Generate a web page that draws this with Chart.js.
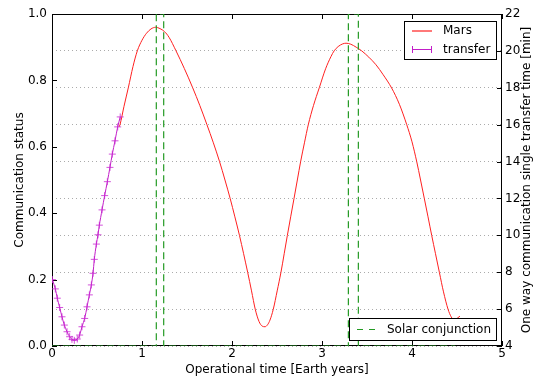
<!DOCTYPE html>
<html><head><meta charset="utf-8">
<script src="https://cdn.jsdelivr.net/npm/chart.js@4"></script>
<style>html,body{margin:0;padding:0;background:#fff;}canvas{display:block;}</style>
</head><body>
<canvas id="c" width="535" height="381"></canvas>
<script>
// ---- data ----
const marsT = [0.745,0.756,0.80,0.848,0.90,0.948,1.00,1.05,1.10,1.152,1.20,1.25,1.30,1.378,1.47,1.563,1.643,1.721,1.793,1.861,1.922,1.980,2.032,2.083,2.129,2.174,2.217,2.258,2.30,2.335,2.367,2.395,2.422,2.459,2.502,2.544,2.580,2.615,2.652,2.689,2.726,2.763,2.805,2.848,2.905,2.970,3.04,3.10,3.135,3.18,3.23,3.267,3.32,3.38,3.441,3.52,3.60,3.68,3.774,3.86,3.941,4.00,4.052,4.095,4.137,4.178,4.219,4.261,4.304,4.35,4.40,4.435,4.467,4.50,4.533];
const marsV = [0.660,0.667,0.722,0.778,0.842,0.889,0.921,0.942,0.955,0.960,0.956,0.947,0.930,0.889,0.836,0.778,0.724,0.667,0.612,0.556,0.500,0.444,0.389,0.333,0.278,0.222,0.166,0.111,0.074,0.060,0.058,0.064,0.078,0.111,0.166,0.222,0.278,0.333,0.389,0.444,0.500,0.556,0.612,0.667,0.724,0.778,0.835,0.872,0.889,0.902,0.910,0.912,0.909,0.900,0.889,0.870,0.847,0.817,0.777,0.728,0.667,0.615,0.556,0.500,0.444,0.389,0.333,0.278,0.222,0.163,0.111,0.088,0.078,0.083,0.090];
const transferT = [0.005,0.037,0.059,0.085,0.111,0.137,0.167,0.196,0.222,0.248,0.281,0.307,0.333,0.363,0.389,0.415,0.437,0.456,0.470,0.493,0.511,0.526,0.556,0.585,0.615,0.644,0.670,0.700,0.730,0.758];
const transferV = [0.200,0.172,0.144,0.116,0.088,0.063,0.043,0.028,0.020,0.017,0.021,0.033,0.058,0.083,0.118,0.154,0.184,0.219,0.261,0.307,0.335,0.364,0.410,0.453,0.495,0.538,0.578,0.618,0.660,0.690];
const conjT = [0,1.159,1.159,1.241,1.241,3.293,3.293,3.404,3.404,4.48];
const conjV = [0,0,1,1,0,0,1,1,0,0];
const xTicks = [0,1,2,3,4,5];
const leftTicks = [0,0.2,0.4,0.6,0.8,1.0];
const rightTicks = [4,6,8,10,12,14,16,18,20,22];
const seriesNames = ['Mars','transfer','Solar conjunction'];
const xTitle = 'Operational time [Earth years]';
const yTitle = 'Communication status';
const y2Title = 'One way communication single transfer time [min]';

const FONT = 'DejaVu Sans';
const RED = '#ff2020', MAG = '#c21ec8', GREEN = '#249a24';
const zip = (t, v) => t.map((x, i) => ({x: x, y: v[i]}));

const decor = {
  id: 'decor',
  beforeDatasetsDraw(chart) {
    const ctx = chart.ctx, a = chart.chartArea;
    const xs = chart.scales.x, ys = chart.scales.y, y2 = chart.scales.y2;
    ctx.save();
    ctx.strokeStyle = '#000'; ctx.lineWidth = 1; ctx.setLineDash([]);
    ctx.strokeRect(Math.round(a.left) + 0.5, Math.round(a.top) + 0.5, Math.round(a.right - a.left) - 1, Math.round(a.bottom - a.top) - 1);
    ctx.beginPath();
    xTicks.forEach(v => {
      const p = Math.round(xs.getPixelForValue(v)) + 0.5;
      ctx.moveTo(p, a.bottom); ctx.lineTo(p, a.bottom - 5);
      ctx.moveTo(p, a.top); ctx.lineTo(p, a.top + 5);
    });
    leftTicks.forEach(v => {
      const p = Math.round(ys.getPixelForValue(v)) + 0.5;
      ctx.moveTo(a.left, p); ctx.lineTo(a.left + 5, p);
    });
    rightTicks.forEach(v => {
      const p = Math.round(y2.getPixelForValue(v)) + 0.5;
      ctx.moveTo(a.right, p); ctx.lineTo(a.right - 5, p);
    });
    ctx.stroke();
    ctx.restore();
  },
  afterDraw(chart) {
    const ctx = chart.ctx, a = chart.chartArea;
    ctx.save();
    ctx.fillStyle = '#000'; ctx.font = '12px "' + FONT + '"';
    ctx.textAlign = 'center'; ctx.textBaseline = 'middle';
    ctx.fillText(xTitle, (a.left + a.right) / 2, 370);
    ctx.save(); ctx.translate(20, (a.top + a.bottom) / 2); ctx.rotate(-Math.PI / 2);
    ctx.fillText(yTitle, 0, 0); ctx.restore();
    ctx.save(); ctx.translate(527, (a.top + a.bottom) / 2); ctx.rotate(-Math.PI / 2);
    ctx.fillText(y2Title, 0, 0); ctx.restore();
    // legend 1 (top right)
    ctx.textAlign = 'left'; ctx.setLineDash([]);
    ctx.fillStyle = '#fff'; ctx.fillRect(404, 21, 93, 39);
    ctx.strokeStyle = '#000'; ctx.lineWidth = 1; ctx.strokeRect(404.5, 21.5, 92, 38);
    ctx.strokeStyle = RED; ctx.lineWidth = 1.2; ctx.beginPath(); ctx.moveTo(412, 31); ctx.lineTo(432, 31); ctx.stroke();
    ctx.strokeStyle = MAG; ctx.lineWidth = 1; ctx.beginPath(); ctx.moveTo(412, 49.5); ctx.lineTo(432, 49.5);
    [412, 431].forEach(x => { ctx.moveTo(x + 0.5, 46); ctx.lineTo(x + 0.5, 53); });
    ctx.stroke();
    ctx.fillStyle = '#000';
    ctx.fillText(seriesNames[0], 443, 31);
    ctx.fillText(seriesNames[1], 443, 49.5);
    // legend 2 (bottom right)
    ctx.fillStyle = '#fff'; ctx.fillRect(349, 318, 148, 23);
    ctx.strokeStyle = '#000'; ctx.lineWidth = 1; ctx.strokeRect(349.5, 318.5, 147, 22);
    ctx.strokeStyle = GREEN; ctx.setLineDash([6, 6]); ctx.beginPath(); ctx.moveTo(357, 329.5); ctx.lineTo(376, 329.5); ctx.stroke();
    ctx.setLineDash([]);
    ctx.fillStyle = '#000'; ctx.fillText(seriesNames[2], 387, 329.5);
    ctx.restore();
  }
};

new Chart(document.getElementById('c'), {
  type: 'line',
  data: {
    datasets: [
      {label: seriesNames[2], data: zip(conjT, conjV), borderColor: GREEN, borderWidth: 1.2, borderDash: [7, 4], pointRadius: 0, tension: 0, yAxisID: 'y'},
      {label: seriesNames[1], data: zip(transferT, transferV), borderColor: MAG, backgroundColor: MAG, borderWidth: 1, pointStyle: 'cross', pointRadius: 3.5, pointBorderWidth: 1, pointBorderColor: 'rgba(200,40,210,0.8)', tension: 0.3, yAxisID: 'y'},
      {label: seriesNames[0], data: zip(marsT, marsV), borderColor: RED, borderWidth: 1, pointRadius: 0, cubicInterpolationMode: 'monotone', yAxisID: 'y'}
    ]
  },
  options: {
    responsive: false, animation: false, devicePixelRatio: 1,
    layout: {padding: {top: 14, left: 0, right: 0, bottom: 0}},
    plugins: {legend: {display: false}, tooltip: {enabled: false}},
    scales: {
      x: {type: 'linear', min: 0, max: 5,
        afterBuildTicks: s => { s.ticks = xTicks.map(v => ({value: v})); },
        afterFit: s => { s.height = 35; },
        grid: {display: false, drawTicks: false}, border: {display: false},
        ticks: {padding: 1, color: '#000', font: {family: FONT, size: 12}, maxRotation: 0, callback: v => String(v)}},
      y: {type: 'linear', position: 'left', min: 0, max: 1,
        afterBuildTicks: s => { s.ticks = leftTicks.map(v => ({value: v})); },
        afterFit: s => { s.width = 52; },
        grid: {display: false, drawTicks: false}, border: {display: false},
        ticks: {padding: 5, color: '#000', font: {family: FONT, size: 12}, callback: v => Number(v).toFixed(1)}},
      y2: {type: 'linear', position: 'right', min: 4, max: 22,
        afterBuildTicks: s => { s.ticks = rightTicks.map(v => ({value: v})); },
        afterFit: s => { s.width = 33; },
        grid: {display: true, drawTicks: false, color: 'rgba(0,0,0,0.33)', lineWidth: 1}, border: {display: false, dash: [1, 3]},
        ticks: {padding: 3, color: '#000', font: {family: FONT, size: 12}, callback: v => String(v)}}
    }
  },
  plugins: [decor]
});
</script>
</body></html>
